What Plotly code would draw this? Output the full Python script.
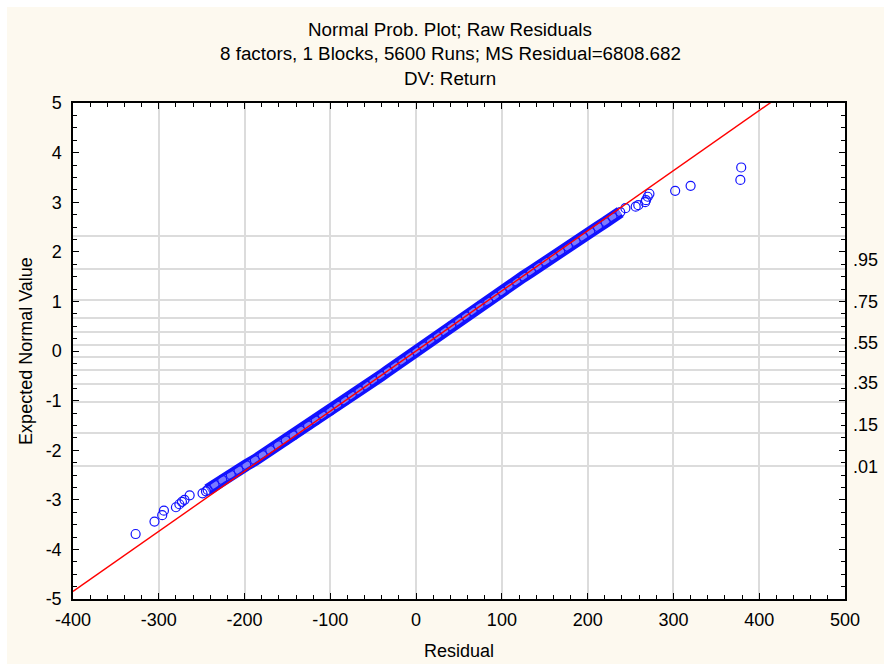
import math
import plotly.graph_objects as go

# ---------------- data ----------------
ms_residual = 6808.682

# lower tail: residual, expected normal value
left_res = [-327, -305, -296, -294, -280, -276, -273, -270, -264, -249, -245]
left_exp = [-3.69, -3.44, -3.31, -3.22, -3.15, -3.09, -3.04, -3.00, -2.91, -2.87, -2.83]

# dense central band
band_exp = [-2.8, -2.7, -2.6, -2.5, -2.4, -2.3, -2.2, -2.1, -2.0, -1.9,
            -1.8, -1.7, -1.6, -1.5, -1.4, -1.3, -1.2, -1.1, -1.0, -0.9,
            -0.8, -0.7, -0.6, -0.5, -0.4, -0.3, -0.2, -0.1, 0.0, 0.1,
            0.2, 0.3, 0.4, 0.5, 0.6, 0.7, 0.8, 0.9, 1.0, 1.1,
            1.2, 1.3, 1.4, 1.5, 1.6, 1.7, 1.8, 1.9, 2.0, 2.1,
            2.2, 2.3, 2.4, 2.5, 2.6, 2.7, 2.8]
band_res = [-243, -235, -226, -216, -207, -198, -188, -179, -170, -161,
            -152, -143, -135, -126, -117, -109, -100, -92, -83, -75,
            -66, -58, -50, -41, -33, -25, -16, -8, 0, 8,
            17, 25, 33, 41, 50, 58, 66, 74, 84, 92,
            100, 108, 117, 125, 134, 142, 151, 160, 168, 177,
            186, 195, 203, 212, 221, 229, 238]

# upper tail
right_res = [244, 256, 259, 267, 268, 270, 272, 302, 320, 378, 379]
right_exp = [2.88, 2.91, 2.94, 3.00, 3.04, 3.11, 3.17, 3.23, 3.33, 3.45, 3.70]

# tick labels (with plain hyphens as in the reference)
x_tick_vals = [-400, -300, -200, -100, 0, 100, 200, 300, 400, 500]
x_tick_text = ["-400", "-300", "-200", "-100", "0", "100", "200", "300", "400", "500"]
y_tick_vals = [-5, -4, -3, -2, -1, 0, 1, 2, 3, 4, 5]
y_tick_text = ["-5", "-4", "-3", "-2", "-1", "0", "1", "2", "3", "4", "5"]

# probability grid (expected normal values of p) and right-hand labels
grid_exp = [-2.326, -1.645, -1.036, -0.674, -0.385, -0.126,
            0.126, 0.385, 0.674, 1.036, 1.645, 2.326]
prob_labels = [".95", ".75", ".55", ".35", ".15", ".01"]
prob_label_pos = [1.835, 0.994, 0.167, -0.651, -1.492, -2.333]

title_lines = ["Normal Prob. Plot; Raw Residuals",
               "8 factors, 1 Blocks, 5600 Runs; MS Residual=6808.682",
               "DV: Return"]

# ---------------------------------------------------------------------
FONT = "Liberation Sans, Arial, sans-serif"
BLUE = "#1212ff"
W, H = 884, 664
ML, MR, MT, MB = 73, 39, 103, 65
PW, PH = W - ML - MR, H - MT - MB
BORDER = 7  # white frame round the cream panel (top and left)

sigma = math.sqrt(ms_residual)
line_x = [-400, 500]
line_y = [v / sigma for v in line_x]

all_res = left_res + band_res + right_res
all_exp = left_exp + band_exp + right_exp

fig = go.Figure()
# dense band (outer + inner tone)
fig.add_trace(go.Scatter(x=band_res, y=band_exp, mode="lines",
                         line=dict(color=BLUE, width=12), hoverinfo="skip",
                         showlegend=False))
fig.add_trace(go.Scatter(x=band_res, y=band_exp, mode="lines",
                         line=dict(color="#7a7aff", width=5), hoverinfo="skip",
                         showlegend=False))
fig.add_trace(go.Scatter(x=all_res, y=all_exp, mode="markers",
                         marker=dict(symbol="circle-open", size=9,
                                     color=BLUE, line=dict(width=1.2, color=BLUE)),
                         showlegend=False))
fig.add_trace(go.Scatter(x=line_x, y=line_y, mode="lines", yaxis="y2",
                         line=dict(color="#ff0000", width=1.4),
                         showlegend=False))

annotations = []
ys = [1.149, 1.099, 1.050]
for t, yy in zip(title_lines, ys):
    annotations.append(dict(text=t, x=0.4887, y=yy, xref="paper", yref="paper",
                            xanchor="center", yanchor="middle", showarrow=False,
                            font=dict(family=FONT, size=18.8, color="black")))
for lab, pos in zip(prob_labels, prob_label_pos):
    annotations.append(dict(text=lab, x=1, y=pos, xref="paper", yref="y",
                            xanchor="left", yanchor="middle", xshift=6,
                            showarrow=False,
                            font=dict(family=FONT, size=18, color="black")))

# white frame strips (top and left) outside the cream panel
px0, px1 = -ML / PW, (W - ML) / PW
py0, py1 = -MB / PH, (H - MB) / PH
shapes = [
    dict(type="rect", xref="paper", yref="paper", x0=px0, x1=px1,
         y0=(H - MB - BORDER) / PH, y1=py1, fillcolor="white", line_width=0,
         layer="above"),
    dict(type="rect", xref="paper", yref="paper", x0=px0, x1=(BORDER - ML) / PW,
         y0=py0, y1=py1, fillcolor="white", line_width=0, layer="above"),
]

axis_common = dict(showline=True, linecolor="black", linewidth=1.5,
                   mirror="ticks", ticks="inside", tickcolor="black",
                   ticklen=6, tickwidth=1.2, zeroline=False, automargin=False,
                   tickmode="array",
                   tickfont=dict(family=FONT, size=18, color="black"))

fig.update_layout(
    width=W, height=H,
    margin=dict(l=ML, r=MR, t=MT, b=MB, autoexpand=False),
    paper_bgcolor="#fdf9ef", plot_bgcolor="white",
    font=dict(family=FONT, size=18, color="black"),
    annotations=annotations,
    shapes=shapes,
    xaxis=dict(range=[-400, 500], tickvals=x_tick_vals, ticktext=x_tick_text,
               showgrid=True, gridcolor="#dcdcdc", gridwidth=1.5,
               minor=dict(tickmode="linear", tick0=0, dtick=20, ticks="inside",
                          ticklen=4, tickcolor="black", showgrid=False),
               title=dict(text="Residual", standoff=15,
                          font=dict(family=FONT, size=18)),
               ticklabelstandoff=4,
               **axis_common),
    yaxis=dict(range=[-5, 5], tickvals=y_tick_vals, ticktext=y_tick_text,
               showgrid=False,
               minor=dict(tickmode="linear", tick0=0, dtick=0.25, ticks="inside",
                          ticklen=4, tickcolor="black", showgrid=False),
               title=dict(text="Expected Normal Value", standoff=8,
                          font=dict(family=FONT, size=18)),
               ticklabelstandoff=6,
               **axis_common),
    yaxis2=dict(range=[-5, 5], overlaying="y", side="right",
                tickvals=grid_exp, showticklabels=False, ticks="",
                showgrid=True, gridcolor="#dcdcdc", gridwidth=1.5,
                showline=False, zeroline=False, automargin=False),
)

fig.write_html("out.html", config={"displayModeBar": False},
               post_script="document.body.style.margin='0';"
                           "document.body.style.overflow='hidden';")
